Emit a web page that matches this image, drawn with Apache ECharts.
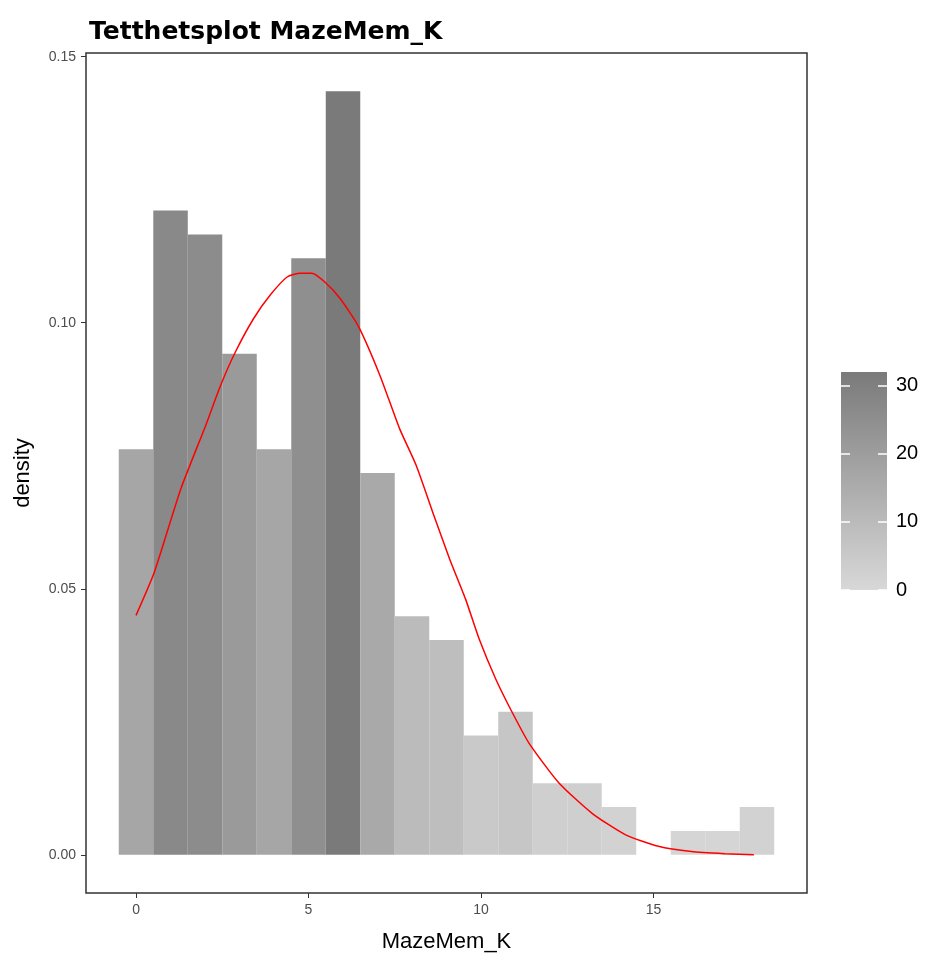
<!DOCTYPE html>
<html>
<head>
<meta charset="utf-8">
<title>Tetthetsplot MazeMem_K</title>
<script src="https://cdn.jsdelivr.net/npm/echarts@6/dist/echarts.min.js"></script>
<style>
  html, body { margin: 0; padding: 0; background: #fff; }
  #chart { width: 938px; height: 953px; }
</style>
</head>
<body>
<div id="chart"></div>
<script>
// histogram bins (centre of each bin, width 1) and counts per bin
const binCentres = [0, 1, 2, 3, 4, 5, 6, 7, 8, 9, 10, 11, 12, 13, 14, 15, 16, 17, 18]
const binCounts = [17, 27, 26, 21, 17, 25, 32, 16, 10, 9, 5, 6, 3, 3, 2, 0, 1, 1, 2]

// red density curve
const curveX = [0, 0.53, 1.30, 2.02, 2.45, 2.88, 3.41, 3.89, 4.38, 4.76, 5.10, 5.48, 5.91, 6.44,
  7.07, 7.64, 8.12, 8.60, 9.09, 9.55, 9.95, 10.43, 10.91, 11.39, 12.26, 13.22, 14.18, 15.14,
  16.10, 17.07, 17.91]
const curveY = [0.0450, 0.0531, 0.0688, 0.0807, 0.0882, 0.0945, 0.1008, 0.1052, 0.1086, 0.1093,
  0.1093, 0.1076, 0.1046, 0.0994, 0.0901, 0.0801, 0.0732, 0.0644, 0.0556, 0.0481, 0.0405,
  0.0330, 0.0267, 0.0210, 0.0135, 0.0078, 0.0038, 0.0016, 0.0006, 0.0002, 0.0000]

const xTicks = [0, 5, 10, 15]
const yTicks = [0, 0.05, 0.10, 0.15]
const fillTicks = [0, 10, 20, 30]

const lowGrey = '#d8d8d8'
const highGrey = '#7a7a7a'
const countMax = 32

const total = binCounts.reduce((a, b) => a + b, 0)
const histData = binCentres.map((x, i) => [x, binCounts[i] / total, binCounts[i]])
const curveData = curveX.map((x, i) => [x, curveY[i]])

const chart = echarts.init(document.getElementById('chart'))

const tickText = { color: '#4d4d4d', fontSize: 14, fontFamily: 'Liberation Sans' }
const titleText = { fontSize: 22, color: '#000', fontFamily: 'Liberation Sans' }

chart.setOption({
  animation: false,
  title: {
    text: 'Tetthetsplot MazeMem_K',
    left: 84,
    top: 15,
    textStyle: { fontFamily: 'DejaVu Sans', fontWeight: 'bold', fontSize: 25, color: '#000' }
  },
  grid: [
    { left: 86, right: 131, top: 53, bottom: 60, outerBoundsMode: 'none', containLabel: false,
      show: true, borderColor: '#333', borderWidth: 1.5, backgroundColor: '#fff' },
    { left: 841, width: 46, top: 372, height: 218, outerBoundsMode: 'none', containLabel: false }
  ],
  visualMap: {
    show: false,
    type: 'continuous',
    seriesIndex: 0,
    dimension: 2,
    min: 0,
    max: countMax,
    inRange: { color: [lowGrey, highGrey] }
  },
  xAxis: [{
    type: 'value',
    gridIndex: 0,
    min: -1.45,
    max: 19.45,
    axisLine: { show: false, onZero: false },
    splitLine: { show: false },
    axisTick: { show: true, length: 5, customValues: xTicks, lineStyle: { color: '#333' } },
    axisLabel: { customValues: xTicks, margin: 10, ...tickText },
    name: 'MazeMem_K',
    nameLocation: 'middle',
    nameGap: 38,
    nameTextStyle: titleText
  }, {
    type: 'value',
    gridIndex: 1,
    min: 0,
    max: 1,
    show: false
  }],
  yAxis: [{
    type: 'value',
    gridIndex: 0,
    min: -0.00718,
    max: 0.1507,
    axisLine: { show: false, onZero: false },
    splitLine: { show: false },
    axisTick: { show: true, length: 5, customValues: yTicks, lineStyle: { color: '#333' } },
    axisLabel: { customValues: yTicks, margin: 10, formatter: v => v.toFixed(2), ...tickText },
    name: 'density',
    nameLocation: 'middle',
    nameRotate: 90,
    nameGap: 52,
    nameTextStyle: titleText
  }, {
    type: 'value',
    gridIndex: 1,
    position: 'left',
    min: 0,
    max: countMax,
    z: 10,
    axisLine: { show: false, onZero: false },
    splitLine: { show: false },
    axisTick: { show: true, inside: true, length: 9, customValues: fillTicks, lineStyle: { color: '#fff', width: 1.5 } },
    axisLabel: { show: false }
  }, {
    type: 'value',
    gridIndex: 1,
    position: 'right',
    min: 0,
    max: countMax,
    z: 10,
    axisLine: { show: false, onZero: false },
    splitLine: { show: false },
    axisTick: { show: true, inside: true, length: 9, customValues: fillTicks, lineStyle: { color: '#fff', width: 1.5 } },
    axisLabel: { customValues: fillTicks, margin: 9, color: '#000', fontSize: 20, fontFamily: 'Liberation Sans' }
  }],
  series: [{
    type: 'custom',
    xAxisIndex: 0,
    yAxisIndex: 0,
    data: histData,
    renderItem: (params, api) => {
      const x = api.value(0)
      const topLeft = api.coord([x - 0.5, api.value(1)])
      const bottomRight = api.coord([x + 0.5, 0])
      return {
        type: 'rect',
        shape: { x: topLeft[0], y: topLeft[1], width: bottomRight[0] - topLeft[0], height: bottomRight[1] - topLeft[1] },
        style: { fill: api.visual('color') }
      }
    },
    z: 2
  }, {
    type: 'line',
    xAxisIndex: 0,
    yAxisIndex: 0,
    data: curveData,
    smooth: 0.2,
    showSymbol: false,
    lineStyle: { color: '#ff0000', width: 1.5 },
    z: 3
  }, {
    // colour bar of the fill scale
    type: 'custom',
    xAxisIndex: 1,
    yAxisIndex: 1,
    data: [[0, countMax]],
    renderItem: (params, api) => {
      const topLeft = api.coord([0, countMax])
      const bottomRight = api.coord([1, 0])
      return {
        type: 'rect',
        shape: { x: topLeft[0], y: topLeft[1], width: bottomRight[0] - topLeft[0], height: bottomRight[1] - topLeft[1] },
        style: {
          fill: new echarts.graphic.LinearGradient(0, 0, 0, 1, [
            { offset: 0, color: highGrey },
            { offset: 1, color: lowGrey }
          ])
        }
      }
    },
    z: 1
  }]
})
</script>
</body>
</html>
